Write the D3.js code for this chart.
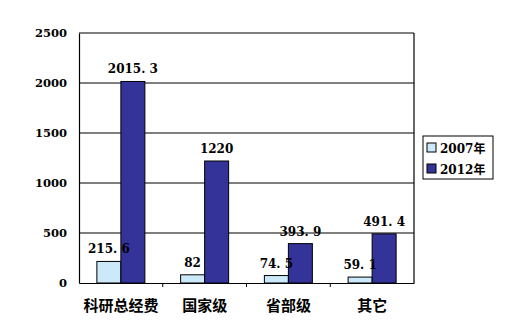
<!DOCTYPE html>
<html>
<head>
<meta charset="utf-8">
<script src="https://cdn.jsdelivr.net/npm/d3@7"></script>
<style>
  body { margin: 0; background: #fff; }
  text { font-family: "DejaVu Serif", "Noto Sans CJK SC", serif; font-weight: bold; }
</style>
</head>
<body>
<svg id="chart" width="511" height="325"></svg>
<script>
const categories = ["科研总经费", "国家级", "省部级", "其它"];
const seriesNames = ["2007年", "2012年"];
const values2007 = [215.6, 82, 74.5, 59.1];
const values2012 = [2015.3, 1220, 393.9, 491.4];
const yTicks = [0, 500, 1000, 1500, 2000, 2500];

const colors = ["#cce9f9", "#333399"];
const plotLeft = 79, plotRight = 414, plotTop = 33, plotBottom = 283;

var svg = d3.select("#chart");

var x = d3.scaleBand().domain(categories).range([plotLeft, plotRight]);
var y = d3.scaleLinear().domain([0, 2500]).range([plotBottom, plotTop]);
const BAR_WIDTH = 24;

// grid lines
svg.selectAll("line.grid")
  .data(yTicks.filter(d => d > 0))
  .enter()
  .append("line")
  .attr("x1", plotLeft).attr("x2", plotRight)
  .attr("y1", d => y(d)).attr("y2", d => y(d))
  .attr("stroke", "#000").attr("stroke-width", 1.2);

// right border
svg.append("line")
  .attr("x1", plotRight).attr("x2", plotRight)
  .attr("y1", plotTop).attr("y2", plotBottom)
  .attr("stroke", "#000").attr("stroke-width", 1.2);

// y axis
var yAxis = svg.append("g")
  .attr("transform", `translate(${plotLeft},0)`)
  .call(d3.axisLeft(y).tickValues(yTicks).tickFormat(d3.format("d")).tickSize(0).tickPadding(12));
yAxis.select(".domain").attr("stroke", "#000").attr("stroke-width", 1.2);
yAxis.selectAll("text").attr("font-size", 11.5).attr("fill", "#000")
  .style("font-family", "DejaVu Serif").style("font-weight", "bold");

// bars
var rows = categories.map((c, i) => ({ cat: c, vals: [values2007[i], values2012[i]] }));

var groups = svg.selectAll("g.grp")
  .data(rows)
  .enter()
  .append("g")
  .attr("class", "grp")
  .attr("transform", d => `translate(${x(d.cat) + x.bandwidth() / 2 - BAR_WIDTH}, 0)`);

groups.selectAll("rect")
  .data(d => d.vals)
  .enter()
  .append("rect")
  .attr("x", (d, i) => i * BAR_WIDTH)
  .attr("y", d => y(d))
  .attr("width", BAR_WIDTH)
  .attr("height", d => plotBottom - y(d))
  .attr("fill", (d, i) => colors[i])
  .attr("stroke", "#000")
  .attr("stroke-width", 1);

groups.selectAll("text")
  .data(d => d.vals)
  .enter()
  .append("text")
  .attr("x", (d, i) => i * BAR_WIDTH + BAR_WIDTH / 2)
  .attr("y", d => y(d) - 8)
  .attr("text-anchor", "middle")
  .attr("font-size", 12)
  .text(d => String(d).replace(".", ". "));

// x axis
var xAxis = svg.append("g")
  .attr("transform", `translate(0,${plotBottom})`)
  .call(d3.axisBottom(x).tickSize(0).tickPadding(17));
xAxis.select(".domain").attr("stroke", "#000").attr("stroke-width", 1.2);
xAxis.selectAll("text").attr("font-size", 15).attr("fill", "#000")
  .style("font-family", "Noto Sans CJK SC").style("font-weight", "bold");

// category separator ticks
svg.selectAll("line.sep")
  .data(categories.slice(1))
  .enter()
  .append("line")
  .attr("x1", d => x(d)).attr("x2", d => x(d))
  .attr("y1", plotBottom).attr("y2", plotBottom + 4)
  .attr("stroke", "#000");

// legend
var legend = svg.append("g").attr("transform", "translate(423,136)");
legend.append("rect")
  .attr("width", 70).attr("height", 43)
  .attr("fill", "#fff").attr("stroke", "#000").attr("stroke-width", 1);
var items = legend.selectAll("g.item")
  .data(seriesNames)
  .enter()
  .append("g")
  .attr("transform", (d, i) => `translate(4, ${12 + i * 21})`);
items.append("rect")
  .attr("x", 0).attr("y", -5)
  .attr("width", 9).attr("height", 9)
  .attr("fill", (d, i) => colors[i])
  .attr("stroke", "#000");
items.append("text")
  .attr("x", 13).attr("y", 5)
  .attr("font-size", 12)
  .text(d => d);
</script>
</body>
</html>
